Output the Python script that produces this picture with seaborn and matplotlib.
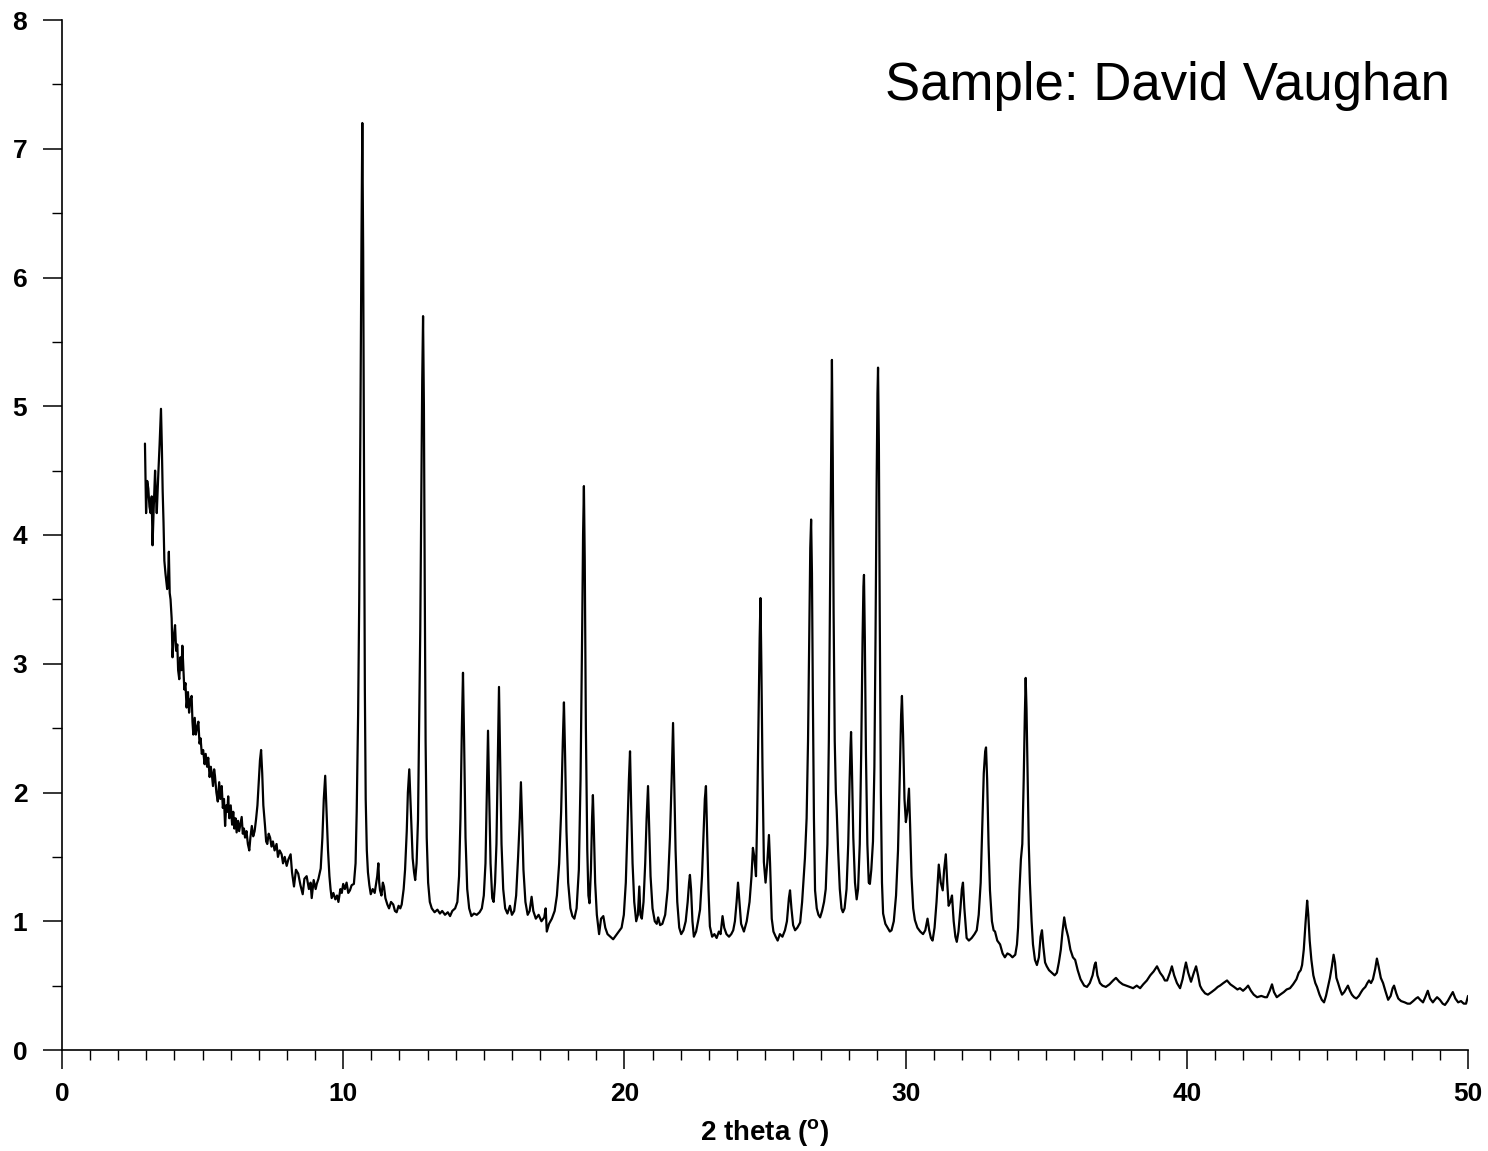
import matplotlib
matplotlib.use("Agg")
import matplotlib.pyplot as plt
from matplotlib.ticker import MultipleLocator
import seaborn as sns
import pandas as pd

# ---- data (2 theta in degrees, intensity) ----
seg_low = [
    (2.95, 4.71), (2.97, 4.45), (2.99, 4.17), (3.03, 4.42), (3.07, 4.36), (3.11, 4.22), (3.15, 4.17),
    (3.19, 4.30), (3.22, 3.92), (3.26, 4.20), (3.31, 4.50), (3.34, 4.30), (3.37, 4.17), (3.42, 4.45),
    (3.47, 4.70), (3.52, 4.98), (3.55, 4.70), (3.58, 4.34), (3.61, 4.10), (3.64, 3.80), (3.68, 3.70),
    (3.72, 3.62), (3.74, 3.58), (3.77, 3.65), (3.80, 3.87), (3.83, 3.55), (3.86, 3.50), (3.90, 3.35),
    (3.93, 3.05), (3.97, 3.20), (4.02, 3.30), (4.06, 3.10), (4.10, 3.15), (4.13, 2.95), (4.17, 2.88),
    (4.21, 3.05), (4.25, 2.95), (4.28, 3.14), (4.31, 3.00), (4.35, 2.80), (4.39, 2.85), (4.43, 2.66),
    (4.48, 2.78), (4.52, 2.62), (4.56, 2.72), (4.61, 2.75), (4.64, 2.55), (4.67, 2.45), (4.72, 2.58),
    (4.76, 2.45), (4.80, 2.50), (4.85, 2.55), (4.89, 2.38), (4.93, 2.42), (4.97, 2.30), (5.02, 2.33),
    (5.07, 2.22), (5.11, 2.30), (5.16, 2.20), (5.20, 2.27), (5.25, 2.12), (5.29, 2.20), (5.32, 2.16),
    (5.37, 2.05), (5.41, 2.18), (5.44, 2.13), (5.49, 2.00), (5.54, 1.93), (5.59, 2.08), (5.63, 1.95),
    (5.68, 2.05), (5.72, 1.88), (5.76, 1.95), (5.80, 1.74), (5.84, 1.90), (5.88, 1.85), (5.91, 1.97),
    (5.95, 1.80), (6.00, 1.90), (6.05, 1.75), (6.09, 1.85), (6.13, 1.72), (6.17, 1.80), (6.21, 1.69),
    (6.26, 1.78), (6.30, 1.70), (6.35, 1.76), (6.39, 1.81), (6.43, 1.68), (6.47, 1.72), (6.51, 1.65),
    (6.56, 1.70), (6.61, 1.60), (6.66, 1.55), (6.70, 1.65), (6.75, 1.74), (6.80, 1.66), (6.85, 1.70),
    (6.90, 1.79), (6.95, 1.90), (7.00, 2.10), (7.04, 2.25), (7.08, 2.33), (7.12, 2.15), (7.16, 1.90),
    (7.22, 1.74), (7.26, 1.62), (7.30, 1.60), (7.35, 1.68), (7.40, 1.65), (7.45, 1.58), (7.50, 1.62),
    (7.56, 1.55), (7.63, 1.60), (7.68, 1.50), (7.74, 1.55), (7.81, 1.52), (7.86, 1.45), (7.92, 1.50),
    (7.99, 1.43), (8.05, 1.48), (8.13, 1.52), (8.18, 1.38), (8.25, 1.27), (8.32, 1.40), (8.40, 1.37),
    (8.48, 1.28), (8.56, 1.21), (8.62, 1.33), (8.70, 1.35), (8.78, 1.25), (8.84, 1.30), (8.88, 1.18),
    (8.95, 1.32), (9.02, 1.25), (9.06, 1.29), (9.12, 1.33), (9.20, 1.41), (9.26, 1.65), (9.31, 1.95),
    (9.36, 2.13), (9.41, 1.85), (9.46, 1.55), (9.51, 1.35), (9.55, 1.25), (9.59, 1.18), (9.65, 1.22),
    (9.72, 1.17), (9.78, 1.20), (9.83, 1.15), (9.90, 1.25), (9.95, 1.22), (10.00, 1.29), (10.06, 1.25),
    (10.12, 1.30), (10.18, 1.22), (10.24, 1.24), (10.30, 1.28), (10.38, 1.29), (10.44, 1.45), (10.48, 1.85),
    (10.53, 2.60), (10.57, 3.50), (10.61, 4.80), (10.65, 6.30), (10.68, 7.20), (10.71, 6.20), (10.74, 4.50),
    (10.77, 2.80), (10.80, 1.95), (10.84, 1.55), (10.88, 1.38), (10.93, 1.28), (10.98, 1.21), (11.05, 1.25),
    (11.12, 1.22), (11.17, 1.29), (11.21, 1.35), (11.25, 1.45), (11.28, 1.30), (11.31, 1.24), (11.36, 1.20),
    (11.41, 1.30), (11.45, 1.27), (11.50, 1.18), (11.57, 1.13), (11.63, 1.10), (11.70, 1.15), (11.78, 1.13),
    (11.84, 1.08), (11.90, 1.07), (11.97, 1.12), (12.03, 1.10), (12.08, 1.13), (12.15, 1.25), (12.20, 1.40),
    (12.26, 1.70), (12.30, 2.00), (12.35, 2.18), (12.39, 1.95), (12.43, 1.70), (12.47, 1.49), (12.52, 1.38),
    (12.56, 1.32), (12.61, 1.45), (12.66, 1.79), (12.70, 2.50), (12.74, 3.25), (12.78, 4.40), (12.81, 5.20),
    (12.84, 5.70), (12.87, 5.00), (12.90, 3.60), (12.93, 2.40), (12.97, 1.65), (13.02, 1.30), (13.08, 1.15),
    (13.15, 1.10), (13.25, 1.07), (13.35, 1.09), (13.44, 1.06), (13.52, 1.08), (13.62, 1.05), (13.72, 1.07),
    (13.80, 1.04), (13.88, 1.08), (13.98, 1.10),
]

seg_mid = [
    (14.06, 1.15), (14.12, 1.35), (14.17, 1.80), (14.22, 2.50), (14.26, 2.93), (14.30, 2.40), (14.35, 1.65),
    (14.41, 1.25), (14.48, 1.10), (14.56, 1.04), (14.65, 1.06), (14.75, 1.05), (14.85, 1.07), (14.93, 1.10),
    (15.00, 1.20), (15.06, 1.45), (15.11, 2.00), (15.15, 2.48), (15.19, 2.00), (15.24, 1.45), (15.30, 1.18),
    (15.35, 1.15), (15.40, 1.30), (15.45, 1.60), (15.50, 2.30), (15.54, 2.82), (15.58, 2.30), (15.63, 1.60),
    (15.69, 1.25), (15.76, 1.10), (15.84, 1.06), (15.93, 1.12), (16.00, 1.05), (16.08, 1.08), (16.15, 1.20),
    (16.22, 1.50), (16.28, 1.80), (16.32, 2.08), (16.36, 1.80), (16.41, 1.40), (16.48, 1.15), (16.56, 1.05),
    (16.63, 1.08), (16.70, 1.19), (16.76, 1.08), (16.85, 1.02), (16.95, 1.05), (17.05, 1.00), (17.15, 1.03),
    (17.20, 1.10), (17.24, 0.92), (17.32, 0.98), (17.42, 1.02), (17.52, 1.08), (17.60, 1.20), (17.68, 1.45),
    (17.75, 1.85), (17.81, 2.40), (17.85, 2.70), (17.89, 2.30), (17.94, 1.70), (18.00, 1.30), (18.08, 1.10),
    (18.15, 1.04), (18.22, 1.02), (18.30, 1.10), (18.38, 1.40), (18.44, 2.10), (18.50, 3.30), (18.53, 4.00),
    (18.56, 4.38), (18.59, 3.80), (18.63, 2.50), (18.68, 1.55), (18.72, 1.20), (18.76, 1.14), (18.81, 1.40),
    (18.85, 1.80), (18.88, 1.98), (18.91, 1.75), (18.96, 1.30), (19.02, 1.05), (19.10, 0.90), (19.17, 1.02),
    (19.25, 1.04), (19.32, 0.95), (19.40, 0.90), (19.50, 0.88), (19.60, 0.86), (19.70, 0.89), (19.80, 0.92),
    (19.90, 0.95), (19.98, 1.05), (20.05, 1.30), (20.11, 1.75), (20.16, 2.10), (20.20, 2.32), (20.24, 1.90),
    (20.29, 1.45), (20.35, 1.15), (20.42, 1.00), (20.48, 1.05), (20.53, 1.27), (20.57, 1.05), (20.62, 1.02),
    (20.68, 1.15), (20.74, 1.45), (20.79, 1.80), (20.84, 2.05), (20.88, 1.75), (20.93, 1.35), (21.00, 1.10),
    (21.08, 1.00), (21.15, 0.98), (21.20, 1.03), (21.27, 0.97), (21.35, 0.98), (21.45, 1.05), (21.54, 1.25),
    (21.62, 1.65), (21.68, 2.10), (21.73, 2.54), (21.77, 2.10), (21.82, 1.55), (21.88, 1.15), (21.95, 0.95),
    (22.02, 0.90), (22.10, 0.93), (22.18, 1.00), (22.25, 1.15), (22.30, 1.30), (22.33, 1.36), (22.37, 1.25),
    (22.42, 1.00), (22.47, 0.88), (22.55, 0.92), (22.62, 1.00), (22.69, 1.09), (22.76, 1.35), (22.82, 1.70),
    (22.86, 1.95), (22.90, 2.05), (22.94, 1.70), (22.99, 1.25),
]

seg_high = [
    (23.04, 0.96), (23.12, 0.88), (23.20, 0.90), (23.28, 0.87), (23.36, 0.92), (23.42, 0.90), (23.49, 1.04),
    (23.55, 0.95), (23.63, 0.90), (23.72, 0.88), (23.80, 0.90), (23.87, 0.93), (23.93, 1.00), (23.99, 1.15),
    (24.04, 1.30), (24.09, 1.15), (24.15, 0.98), (24.25, 0.92), (24.35, 1.00), (24.45, 1.15), (24.52, 1.35),
    (24.57, 1.57), (24.62, 1.50), (24.68, 1.35), (24.72, 1.80), (24.77, 2.60), (24.81, 3.20), (24.84, 3.51),
    (24.87, 3.00), (24.91, 2.20), (24.96, 1.46), (25.02, 1.30), (25.08, 1.45), (25.14, 1.67), (25.18, 1.45),
    (25.24, 1.02), (25.30, 0.92), (25.38, 0.88), (25.45, 0.85), (25.53, 0.90), (25.62, 0.88), (25.71, 0.93),
    (25.78, 1.00), (25.85, 1.18), (25.89, 1.24), (25.94, 1.10), (26.00, 0.97), (26.07, 0.93), (26.15, 0.95),
    (26.25, 0.99), (26.32, 1.15), (26.38, 1.35), (26.42, 1.49), (26.48, 1.80), (26.53, 2.40), (26.58, 3.30),
    (26.61, 3.90), (26.64, 4.12), (26.67, 3.70), (26.70, 2.80), (26.74, 1.80), (26.78, 1.24), (26.84, 1.10),
    (26.90, 1.05), (26.96, 1.03), (27.03, 1.08), (27.10, 1.15), (27.16, 1.25), (27.22, 1.60), (27.27, 2.40),
    (27.31, 3.50), (27.35, 4.70), (27.38, 5.36), (27.41, 4.60), (27.44, 3.40), (27.48, 2.40), (27.52, 2.00),
    (27.55, 1.86), (27.60, 1.55), (27.66, 1.25), (27.72, 1.10), (27.77, 1.07), (27.83, 1.10), (27.90, 1.25),
    (27.96, 1.60), (28.01, 2.10), (28.04, 2.35), (28.06, 2.47), (28.09, 2.20), (28.14, 1.65), (28.20, 1.30),
    (28.26, 1.17), (28.31, 1.25), (28.37, 1.60), (28.42, 2.30), (28.47, 3.20), (28.50, 3.60), (28.52, 3.69),
    (28.55, 3.20), (28.59, 2.30), (28.64, 1.60), (28.69, 1.30), (28.73, 1.29), (28.78, 1.40), (28.84, 1.62),
    (28.89, 2.20), (28.93, 3.20), (28.97, 4.40), (29.00, 5.10), (29.02, 5.30), (29.05, 4.70), (29.08, 3.40),
    (29.12, 2.00), (29.16, 1.30), (29.20, 1.06), (29.28, 0.98), (29.36, 0.95), (29.44, 0.92), (29.50, 0.93),
    (29.58, 1.00), (29.66, 1.20), (29.73, 1.55), (29.79, 2.10), (29.84, 2.60), (29.87, 2.75), (29.91, 2.45),
    (29.96, 1.95), (30.01, 1.77), (30.06, 1.85), (30.12, 2.03), (30.16, 1.75), (30.21, 1.35), (30.27, 1.10),
    (30.33, 1.01), (30.42, 0.95), (30.52, 0.92), (30.62, 0.90), (30.70, 0.93), (30.78, 1.02), (30.84, 0.93),
    (30.90, 0.87), (30.96, 0.85), (31.03, 0.95), (31.10, 1.15), (31.18, 1.44), (31.25, 1.30), (31.32, 1.24),
    (31.37, 1.40), (31.43, 1.52), (31.48, 1.30), (31.53, 1.12), (31.59, 1.15), (31.65, 1.20), (31.71, 1.00),
    (31.77, 0.88), (31.82, 0.84), (31.88, 0.92), (31.95, 1.10), (32.00, 1.25), (32.04, 1.30), (32.09, 1.10),
    (32.17, 0.87), (32.25, 0.85), (32.35, 0.87), (32.45, 0.90), (32.53, 0.93), (32.60, 1.05), (32.67, 1.30),
    (32.73, 1.75), (32.78, 2.15), (32.83, 2.32), (32.86, 2.35), (32.90, 2.10), (32.95, 1.60), (33.00, 1.24),
    (33.07, 1.00), (33.13, 0.93), (33.18, 0.92), (33.26, 0.85), (33.36, 0.82), (33.45, 0.75), (33.53, 0.72),
    (33.62, 0.75), (33.71, 0.74), (33.80, 0.72), (33.90, 0.74), (33.96, 0.82), (34.00, 0.95), (34.05, 1.25),
    (34.10, 1.48), (34.15, 1.60), (34.20, 2.10), (34.24, 2.60), (34.27, 2.89), (34.30, 2.65), (34.34, 2.10),
    (34.38, 1.60), (34.42, 1.30), (34.48, 1.00), (34.53, 0.82), (34.60, 0.70), (34.67, 0.66), (34.74, 0.72),
    (34.80, 0.88), (34.85, 0.93), (34.90, 0.80), (34.96, 0.68),
]

seg_tail = [
    (35.02, 0.65), (35.10, 0.62), (35.20, 0.60), (35.30, 0.58), (35.38, 0.60), (35.45, 0.68), (35.52, 0.78),
    (35.58, 0.92), (35.64, 1.03), (35.70, 0.95), (35.78, 0.88), (35.86, 0.78), (35.95, 0.72), (36.03, 0.70),
    (36.12, 0.62), (36.22, 0.55), (36.35, 0.50), (36.45, 0.49), (36.55, 0.52), (36.65, 0.58), (36.72, 0.66),
    (36.76, 0.68), (36.82, 0.58), (36.91, 0.52), (37.00, 0.50), (37.12, 0.49), (37.25, 0.51), (37.38, 0.54),
    (37.48, 0.56), (37.60, 0.53), (37.72, 0.51), (37.85, 0.50), (37.97, 0.49), (38.09, 0.48), (38.22, 0.50),
    (38.34, 0.48), (38.45, 0.51), (38.58, 0.54), (38.70, 0.58), (38.82, 0.61), (38.94, 0.65), (39.05, 0.60),
    (39.15, 0.57), (39.22, 0.54), (39.30, 0.54), (39.40, 0.60), (39.47, 0.65), (39.55, 0.58), (39.65, 0.52),
    (39.76, 0.48), (39.85, 0.55), (39.92, 0.63), (39.97, 0.68), (40.05, 0.60), (40.15, 0.53), (40.25, 0.60),
    (40.33, 0.65), (40.40, 0.58), (40.47, 0.50), (40.54, 0.47), (40.65, 0.44), (40.75, 0.43), (40.88, 0.45),
    (41.00, 0.47), (41.10, 0.49), (41.18, 0.50), (41.30, 0.52), (41.43, 0.54), (41.55, 0.51), (41.68, 0.49),
    (41.80, 0.47), (41.89, 0.48), (42.00, 0.46), (42.10, 0.48), (42.18, 0.50), (42.28, 0.46), (42.38, 0.43),
    (42.50, 0.41), (42.65, 0.42), (42.78, 0.41), (42.85, 0.41), (42.95, 0.46), (43.03, 0.51), (43.10, 0.45),
    (43.20, 0.41), (43.32, 0.43), (43.45, 0.45), (43.55, 0.47), (43.67, 0.48), (43.78, 0.51), (43.90, 0.55),
    (43.98, 0.60), (44.05, 0.62), (44.10, 0.66), (44.16, 0.78), (44.22, 0.98), (44.28, 1.16), (44.32, 1.05),
    (44.37, 0.85), (44.43, 0.70), (44.50, 0.58), (44.57, 0.52), (44.63, 0.49), (44.72, 0.43), (44.80, 0.39),
    (44.88, 0.37), (44.95, 0.42), (45.03, 0.50), (45.09, 0.56), (45.16, 0.65), (45.22, 0.74), (45.27, 0.68),
    (45.32, 0.56), (45.38, 0.52), (45.45, 0.47), (45.52, 0.43), (45.60, 0.45), (45.68, 0.48), (45.73, 0.50),
    (45.80, 0.46), (45.87, 0.43), (45.95, 0.41), (46.03, 0.40), (46.12, 0.42), (46.20, 0.45), (46.26, 0.47),
    (46.35, 0.49), (46.42, 0.52), (46.48, 0.54), (46.55, 0.52), (46.62, 0.55), (46.70, 0.63), (46.76, 0.71),
    (46.82, 0.65), (46.90, 0.56), (46.98, 0.52), (47.06, 0.46), (47.16, 0.39), (47.25, 0.42), (47.32, 0.48),
    (47.37, 0.50), (47.45, 0.44), (47.52, 0.40), (47.62, 0.38), (47.75, 0.37), (47.85, 0.36), (47.94, 0.36),
    (48.05, 0.38), (48.15, 0.40), (48.22, 0.41), (48.30, 0.39), (48.40, 0.37), (48.48, 0.41), (48.57, 0.46),
    (48.65, 0.40), (48.75, 0.37), (48.82, 0.39), (48.90, 0.41), (49.00, 0.39), (49.10, 0.36), (49.18, 0.35),
    (49.28, 0.38), (49.38, 0.42), (49.46, 0.45), (49.55, 0.40), (49.65, 0.37), (49.75, 0.38), (49.85, 0.36),
    (49.93, 0.36), (50.00, 0.42),
]

x_ticks = [0, 10, 20, 30, 40, 50]
y_ticks = [0, 1, 2, 3, 4, 5, 6, 7, 8]
x_label = "2 theta ($\\mathregular{^{o}}$)"
title_text = "Sample: David Vaughan"

# ---- build table ----
rows = seg_low + seg_mid + seg_high + seg_tail
df = pd.DataFrame(rows, columns=["two_theta", "intensity"])

sns.set_theme(style="ticks")
plt.rcParams["font.family"] = ["Liberation Sans", "DejaVu Sans"]
plt.rcParams["mathtext.fontset"] = "custom"
plt.rcParams["mathtext.rm"] = "Liberation Sans:bold"

fig = plt.figure(figsize=(14.88, 11.51), dpi=100)
ax = fig.add_axes([62 / 1488, 1 - 1050 / 1151, (1468 - 62) / 1488, (1050 - 20) / 1151])

sns.lineplot(data=df, x="two_theta", y="intensity", ax=ax, color="black",
             linewidth=1.6, estimator=None, sort=False)

ax.set_xlim(0, 50)
ax.set_ylim(0, 8)
ax.set_xticks(x_ticks)
ax.set_yticks(y_ticks)
ax.xaxis.set_minor_locator(MultipleLocator(1))
ax.yaxis.set_minor_locator(MultipleLocator(0.5))
ax.tick_params(axis="both", which="major", direction="out", length=14, width=1.1,
               color="black", labelsize=19, labelcolor="black")
ax.tick_params(axis="x", which="major", pad=9)
ax.tick_params(axis="y", which="major", pad=11)
ax.tick_params(axis="both", which="minor", direction="out", length=7, width=1.0, color="black")
for lbl in ax.get_xticklabels() + ax.get_yticklabels():
    lbl.set_fontweight("bold")

for side in ["top", "right"]:
    ax.spines[side].set_visible(False)
for side in ["left", "bottom"]:
    ax.spines[side].set_color("black")
    ax.spines[side].set_linewidth(1.2)

ax.set_xlabel(x_label, fontsize=20, fontweight="bold", color="black", labelpad=8)
ax.set_ylabel("")

ax.text(0.9872, 0.922, title_text, transform=ax.transAxes, ha="right", va="baseline",
        fontsize=38, color="black", family=["Liberation Sans", "DejaVu Sans"])

fig.savefig("out.png", dpi=100, facecolor="white")
